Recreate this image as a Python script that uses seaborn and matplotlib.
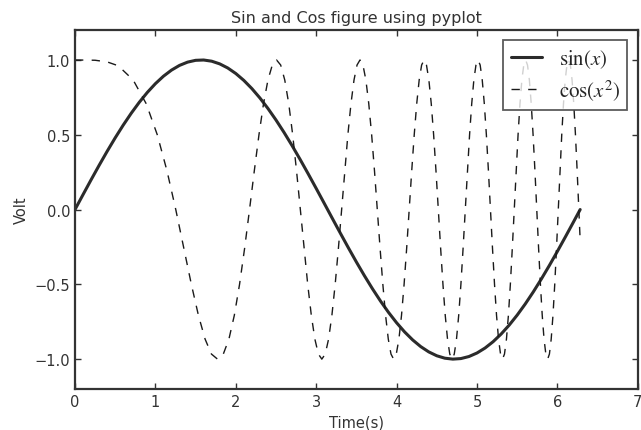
import pandas as pd
import matplotlib
matplotlib.use("Agg")
import matplotlib.pyplot as plt
import seaborn as sns

# Valores: sin(x)
sin_x = [0.0, 0.1, 0.2, 0.3, 0.4, 0.5, 0.6, 0.7, 0.8, 0.9, 1.0, 1.1, 1.2, 1.3,
         1.4, 1.5, 1.6, 1.7, 1.8, 1.9, 2.0, 2.1, 2.2, 2.3, 2.4, 2.5, 2.6, 2.7,
         2.8, 2.9, 3.0, 3.1, 3.2, 3.3, 3.4, 3.5, 3.6, 3.7, 3.8, 3.9, 4.0, 4.1,
         4.2, 4.3, 4.4, 4.5, 4.6, 4.7, 4.8, 4.9, 5.0, 5.1, 5.2, 5.3, 5.4, 5.5,
         5.6, 5.7, 5.8, 5.9, 6.0, 6.1, 6.2, 6.2832]
sin_y = [0.0, 0.0998, 0.1987, 0.2955, 0.3894, 0.4794, 0.5646, 0.6442, 0.7174,
         0.7833, 0.8415, 0.8912, 0.9320, 0.9636, 0.9854, 0.9975, 0.9996, 0.9917,
         0.9738, 0.9463, 0.9093, 0.8632, 0.8085, 0.7457, 0.6755, 0.5985, 0.5155,
         0.4274, 0.3350, 0.2392, 0.1411, 0.0416, -0.0584, -0.1577, -0.2555,
         -0.3508, -0.4425, -0.5298, -0.6119, -0.6878, -0.7568, -0.8183, -0.8716,
         -0.9162, -0.9516, -0.9775, -0.9937, -0.9999, -0.9962, -0.9825, -0.9589,
         -0.9258, -0.8835, -0.8323, -0.7728, -0.7055, -0.6313, -0.5507, -0.4646,
         -0.3739, -0.2794, -0.1822, -0.0831, 0.0]

# Valores: cos(x^2), picos, ceros y puntos intermedios
cos_x_a = [0.0, 0.25, 0.4, 0.55, 0.7236, 1.0233, 1.2533, 1.4472, 1.6180, 1.7725,
           1.9145, 2.0467, 2.1708, 2.2882, 2.3999, 2.5066, 2.6090, 2.7075, 2.8025,
           2.8944, 2.9835, 3.0700, 3.1541, 3.2361, 3.3160, 3.3940, 3.4703, 3.5449,
           3.6180, 3.6897, 3.7600, 3.8290, 3.8967, 3.9633, 4.0289, 4.0933, 4.1568,
           4.2193, 4.2809, 4.3416, 4.4015, 4.4606, 4.5189, 4.5765, 4.6333, 4.6895,
           4.7450, 4.7998, 4.8541, 4.9077, 4.9608, 5.0133, 5.0652, 5.1166, 5.1675,
           5.2180, 5.2679, 5.3174, 5.3664, 5.4149, 5.4631, 5.5108, 5.5581, 5.6050,
           5.6515, 5.6976, 5.7434, 5.7888, 5.8338, 5.8786, 5.9229, 5.9670, 6.0107,
           6.0541, 6.0972, 6.1400, 6.1825, 6.2247, 6.2666, 6.2832]
cos_y_a = [1.0, 0.998, 0.987, 0.955,
           0.866, 0.5, 0.0, -0.5, -0.866, -1.0, -0.866, -0.5, 0.0, 0.5, 0.866,
           1.0, 0.866, 0.5, 0.0, -0.5, -0.866, -1.0, -0.866, -0.5, 0.0, 0.5, 0.866,
           1.0, 0.866, 0.5, 0.0, -0.5, -0.866, -1.0, -0.866, -0.5, 0.0, 0.5, 0.866,
           1.0, 0.866, 0.5, 0.0, -0.5, -0.866, -1.0, -0.866, -0.5, 0.0, 0.5, 0.866,
           1.0, 0.866, 0.5, 0.0, -0.5, -0.866, -1.0, -0.866, -0.5, 0.0, 0.5, 0.866,
           1.0, 0.866, 0.5, 0.0, -0.5, -0.866, -1.0, -0.866, -0.5, 0.0, 0.5, 0.866,
           1.0, 0.866, 0.5, 0.0, -0.206]
cos_x_b = [0.5117, 0.8862, 1.1441, 1.3537, 1.5350, 1.6970, 1.8448, 1.9817, 2.1097,
           2.2303, 2.3447, 2.4539, 2.5583, 2.6587, 2.7554, 2.8488, 2.9393, 3.0270,
           3.1124, 3.1953, 3.2763, 3.3552, 3.4324, 3.5078, 3.5817, 3.6540, 3.7250,
           3.7946, 3.8630, 3.9302, 3.9962, 4.0612, 4.1252, 4.1882, 4.2502, 4.3114,
           4.3717, 4.4312, 4.4898, 4.5478, 4.6050, 4.6615, 4.7173, 4.7725, 4.8270,
           4.8810, 4.9343, 4.9871, 5.0393, 5.0910, 5.1422, 5.1928, 5.2430, 5.2927,
           5.3419, 5.3907, 5.4391, 5.4870, 5.5345, 5.5816, 5.6283, 5.6746, 5.7206,
           5.7662, 5.8114, 5.8563, 5.9008, 5.9450, 5.9889, 6.0324, 6.0757, 6.1186,
           6.1613, 6.2036, 6.2457]
cos_y_b = [0.966, 0.707, 0.259, -0.259, -0.707, -0.966, -0.966, -0.707, -0.259, 0.259, 0.707, 0.966,
           0.966, 0.707, 0.259, -0.259, -0.707, -0.966, -0.966, -0.707, -0.259, 0.259, 0.707, 0.966,
           0.966, 0.707, 0.259, -0.259, -0.707, -0.966, -0.966, -0.707, -0.259, 0.259, 0.707, 0.966,
           0.966, 0.707, 0.259, -0.259, -0.707, -0.966, -0.966, -0.707, -0.259, 0.259, 0.707, 0.966,
           0.966, 0.707, 0.259, -0.259, -0.707, -0.966, -0.966, -0.707, -0.259, 0.259, 0.707, 0.966,
           0.966, 0.707, 0.259, -0.259, -0.707, -0.966, -0.966, -0.707, -0.259, 0.259, 0.707, 0.966,
           0.966, 0.707, 0.259]

x_ticks = [0, 1, 2, 3, 4, 5, 6, 7]
y_ticks = [-1.0, -0.5, 0.0, 0.5, 1.0]

df_sin = pd.DataFrame({"x": sin_x, "y": sin_y})
df_cos = pd.concat([pd.DataFrame({"x": cos_x_a, "y": cos_y_a}),
                    pd.DataFrame({"x": cos_x_b, "y": cos_y_b})])
df_cos = df_cos.sort_values("x").reset_index(drop=True)

sns.set_style("ticks", {"xtick.direction": "in", "ytick.direction": "in",
                        "axes.edgecolor": "#333333"})
plt.rcParams["font.family"] = ["DejaVu Sans"]
plt.rcParams["mathtext.fontset"] = "stix"

fig = plt.figure(figsize=(6.41, 4.31), dpi=100)
ax = fig.add_axes([0.117, 0.095, 0.878, 0.833])

sns.lineplot(data=df_sin, x="x", y="y", ax=ax, color="#2b2b2b", linewidth=2.2,
             sort=False, estimator=None)
sns.lineplot(data=df_cos, x="x", y="y", ax=ax, color="#1a1a1a", linewidth=1.0,
             linestyle=(0, (6, 6)), sort=False, estimator=None)

ax.set_xlim(0, 7)
ax.set_ylim(-1.2, 1.2)
ax.set_xticks(x_ticks)
ax.set_yticks(y_ticks)
ax.tick_params(top=True, right=True, length=4, width=1, labelsize=10.5,
               colors="#333333")
for s in ax.spines.values():
    s.set_visible(True)
    s.set_linewidth(1.6)

ax.set_title("Sin and Cos figure using pyplot", fontsize=11.5, color="#333333")
ax.set_xlabel("Time(s)", fontsize=10.5, color="#333333")
ax.set_ylabel("Volt", fontsize=10.5, color="#333333")

# Leyenda con las propias lineas (conserva el patron de guiones)
lineas = ax.get_lines()[:2]
leg = ax.legend(lineas, [r"$\sin(x)$", r"$\cos(x^2)$"], loc="upper right",
                fontsize=15, frameon=True, fancybox=False, handlelength=1.5,
                borderpad=0.35, labelspacing=0.35, borderaxespad=0.5)
leg.get_frame().set_edgecolor("#333333")
leg.get_frame().set_linewidth(1.3)

fig.savefig("out.png", dpi=100)
